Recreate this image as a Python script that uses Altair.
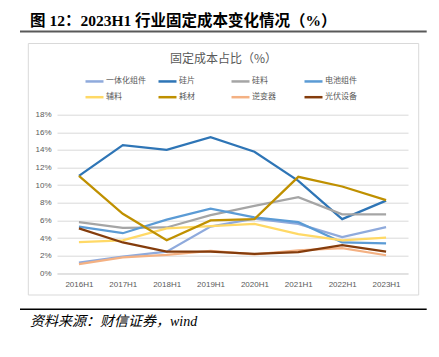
import altair as alt
import pandas as pd

periods = ["2016H1", "2017H1", "2018H1", "2019H1", "2020H1", "2021H1", "2022H1", "2023H1"]
series = ["一体化组件", "硅片", "硅料", "电池组件", "辅料", "耗材", "逆变器", "光伏设备"]
colors = ["#8FAADC", "#2E75B6", "#A5A5A5", "#5B9BD5", "#FFD966", "#BF9000", "#F4B183", "#843C0C"]

v_yitihua = [1.2, 1.9, 2.45, 5.3, 6.2, 5.6, 4.1, 5.25]
v_guipian = [11.05, 14.55, 14.0, 15.45, 13.8, 10.5, 6.15, 8.25]
v_guiliao = [5.8, 5.15, 5.2, 6.6, 7.65, 8.65, 6.7, 6.7]
v_dianchi = [5.3, 4.55, 6.1, 7.35, 6.35, 5.8, 3.5, 3.4]
v_fuliao = [3.55, 3.75, 5.1, 5.35, 5.6, 4.45, 3.75, 4.05]
v_haocai = [11.05, 6.75, 3.75, 6.0, 6.15, 10.95, 9.85, 8.3]
v_nibian = [1.05, 1.8, 2.1, 2.55, 2.15, 2.6, 2.85, 2.05]
v_shebei = [5.1, 3.5, 2.45, 2.45, 2.2, 2.4, 3.2, 2.45]

y_ticks = [0, 2, 4, 6, 8, 10, 12, 14, 16, 18]

title_text = "图 12：2023H1 行业固定成本变化情况（%）"
chart_title = "固定成本占比（%）"
source_text = "资料来源：财信证券，wind"

all_values = [v_yitihua, v_guipian, v_guiliao, v_dianchi, v_fuliao, v_haocai, v_nibian, v_shebei]
rows = []
for s, vals in zip(series, all_values):
    for p, v in zip(periods, vals):
        rows.append({"period": p, "series": s, "value": v, "order": series.index(s)})
df = pd.DataFrame(rows)

CJK = "Noto Sans CJK SC"
SERIF = "Liberation Serif, Noto Sans CJK SC"
one = pd.DataFrame({"a": [0]})

lines = alt.Chart(df).mark_line(strokeWidth=2.25).encode(
    x=alt.X("period:N", sort=periods,
            scale=alt.Scale(type="point", padding=0.5),
            axis=alt.Axis(title=None, labelAngle=0, ticks=False, domain=True,
                          domainColor="#D9D9D9", labelColor="#595959",
                          labelFontSize=8, labelFont="Liberation Sans", labelPadding=7)),
    y=alt.Y("value:Q", scale=alt.Scale(domain=[0, 18], nice=False),
            axis=alt.Axis(title=None, values=y_ticks, labelExpr="datum.value + '%'",
                          ticks=False, domain=False, grid=True, gridColor="#D9D9D9",
                          labelColor="#595959", labelFontSize=8,
                          labelFont="Liberation Sans", labelPadding=6)),
    color=alt.Color("series:N", sort=series,
                    scale=alt.Scale(domain=series, range=colors),
                    legend=alt.Legend(title=None, orient="none", legendX=27, legendY=-44,
                                      direction="horizontal",
                                      columns=4, gridAlign="all", symbolType="stroke",
                                      symbolSize=324, symbolStrokeWidth=2.5,
                                      labelFontSize=8, labelFont=CJK, labelColor="#595959",
                                      labelOffset=1, columnPadding=7, rowPadding=0,
                                      padding=0)),
    order=alt.Order("order:Q"),
)

box = alt.Chart(one).mark_rect(fillOpacity=0, stroke="#D9D9D9", strokeWidth=1).encode(
    x=alt.value(-28.7), x2=alt.value(361.7), y=alt.value(-71.2), y2=alt.value(180.3))

top_rule = alt.Chart(one).mark_rule(color="#595959", strokeWidth=2).encode(
    x=alt.value(-37), x2=alt.value(369.7), y=alt.value(-83.2))

bottom_rule = alt.Chart(one).mark_rule(color="#000000", strokeWidth=1.5).encode(
    x=alt.value(-37), x2=alt.value(369.7), y=alt.value(194.6))

title = alt.Chart(one).mark_text(text=title_text, font=SERIF, fontWeight="bold", fontSize=15.5,
                                 align="left", baseline="middle", color="#000000").encode(
    x=alt.value(-27), y=alt.value(-93.7))

ctitle = alt.Chart(one).mark_text(text=chart_title, font=CJK, fontSize=12,
                                  align="center", baseline="middle", color="#595959").encode(
    x=alt.value(166.5), y=alt.value(-55.7))

source = alt.Chart(one).mark_text(text=source_text, font=SERIF, fontStyle="italic", fontSize=14,
                                  align="left", baseline="middle", color="#000000").encode(
    x=alt.value(-27), y=alt.value(207.3))

chart = alt.layer(box, lines, top_rule, bottom_rule, title, ctitle, source).properties(
    width=351, height=158.6,
    autosize=alt.AutoSizeParams(type="none"),
    padding={"left": 49, "top": 106.7, "right": 23, "bottom": 75.7},
    background="#FFFFFF",
).configure_view(stroke=None)

chart.save("out.html", embed_options={"renderer": "svg", "actions": False})
